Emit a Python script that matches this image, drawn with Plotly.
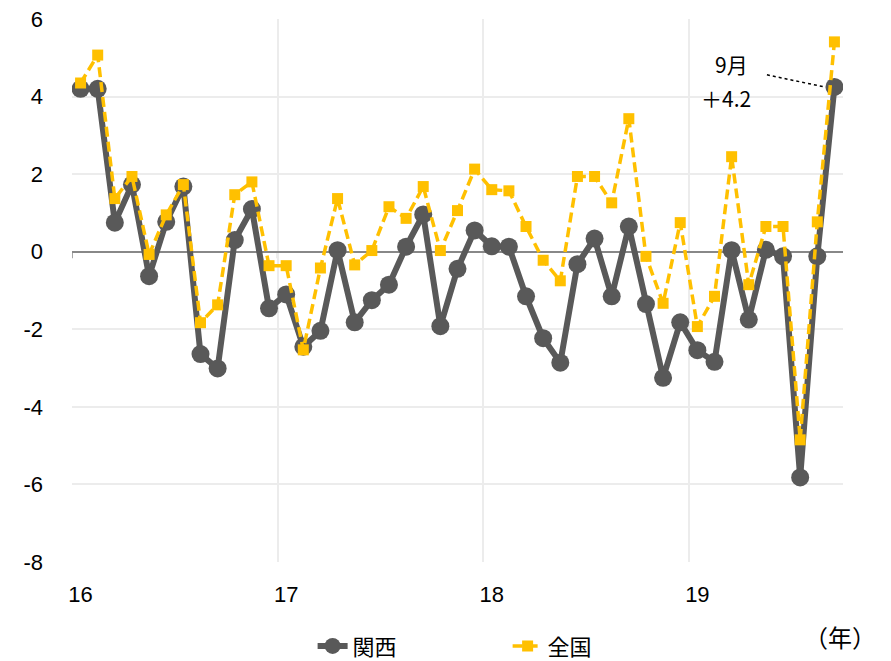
import plotly.graph_objects as go

months = [f"{y}-{m:02d}" for y in range(2016, 2020) for m in range(1, 13)][:45]
kansai = [4.2, 4.2, 0.75, 1.73, -0.63, 0.77, 1.68, -2.64, -3.01, 0.3, 1.1, -1.46,
          -1.1, -2.45, -2.04, 0.04, -1.82, -1.25, -0.85, 0.13, 0.96, -1.92, -0.44, 0.55,
          0.14, 0.13, -1.15, -2.23, -2.86, -0.32, 0.34, -1.15, 0.65, -1.35, -3.25, -1.82,
          -2.54, -2.84, 0.04, -1.75, 0.05, -0.12, -5.82, -0.12, 4.25]
zenkoku = [4.35, 5.07, 1.37, 1.94, -0.07, 0.95, 1.73, -1.83, -1.37, 1.47, 1.8, -0.36,
           -0.36, -2.53, -0.42, 1.37, -0.34, 0.03, 1.16, 0.86, 1.68, 0.03, 1.06, 2.13,
           1.6, 1.57, 0.65, -0.22, -0.75, 1.94, 1.94, 1.26, 3.43, -0.12, -1.33, 0.75,
           -1.93, -1.15, 2.45, -0.85, 0.65, 0.65, -4.85, 0.77, 5.41]
year_ticks = ["16", "17", "18", "19"]
y_ticks = [6, 4, 2, 0, -2, -4, -6, -8]

x = list(range(len(months)))
tick_pos = [x[i] for i in range(0, len(x), 12)]
bounds = [p - 0.5 for p in tick_pos]

latin = "Liberation Sans, Arial, sans-serif"
cjk = "Noto Sans CJK JP, sans-serif"

fig = go.Figure()
fig.add_trace(go.Scatter(
    x=x, y=kansai, name="関西", mode="lines+markers",
    line=dict(color="#595959", width=6),
    marker=dict(symbol="circle", size=18, color="#595959"),
))
fig.add_trace(go.Scatter(
    x=x, y=zenkoku, name="全国", mode="lines+markers",
    line=dict(color="#FFC000", width=3.5, dash="10px,5px"),
    marker=dict(symbol="square", size=11, color="#FFC000"),
))

# tick marks at year boundaries on the zero line
for b in bounds:
    fig.add_shape(type="line", x0=b, x1=b, y0=0, y1=-0.17, xref="x", yref="y",
                  line=dict(color="#888888", width=1.5), layer="below")

# annotation for last point
last = len(x) - 1
fig.add_shape(type="line", x0=40.06, y0=4.56, x1=x[last] - 0.6, y1=kansai[last],
              xref="x", yref="y", line=dict(color="black", width=1.5, dash="dot"))
fig.add_annotation(x=38.0, y=4.84, xref="x", yref="y", text="9月", showarrow=False,
                   font=dict(family=cjk, size=21, color="black"))
fig.add_annotation(x=37.7, y=3.96, xref="x", yref="y", text="＋4.2", showarrow=False,
                   font=dict(family=cjk, size=21, color="black"))
fig.add_annotation(x=1.046, y=-0.138, xref="paper", yref="paper", text="（年）",
                   showarrow=False, xanchor="right", yanchor="middle",
                   font=dict(family=cjk, size=24, color="black"))

fig.update_layout(
    width=883, height=653,
    margin=dict(l=64, r=48, t=11, b=99, autoexpand=False),
    paper_bgcolor="white", plot_bgcolor="white",
    font=dict(family=latin, size=22, color="black"),
    showlegend=True,
    legend=dict(orientation="h", x=0.565, xanchor="center", y=-0.155, yanchor="middle",
                font=dict(family=cjk, size=22, color="black"),
                entrywidth=150, entrywidthmode="pixels", tracegroupgap=0,
                bgcolor="rgba(0,0,0,0)"),
    xaxis=dict(
        range=[-0.5, len(x) - 0.5],
        tickmode="array", tickvals=tick_pos, ticktext=year_ticks,
        showgrid=False, zeroline=False, showline=False, ticks="",
        ticklabelstandoff=17,
        tickfont=dict(family=latin, size=22, color="black"),
        minor=dict(tickmode="array", tickvals=bounds, showgrid=True,
                   gridcolor="#ececec", gridwidth=1.5, ticks=""),
    ),
    yaxis=dict(
        range=[-8, 6],
        tickmode="array", tickvals=y_ticks, ticktext=[str(v) for v in y_ticks],
        showgrid=True, gridcolor="#ececec", gridwidth=1.5,
        zeroline=True, zerolinecolor="#888888", zerolinewidth=2,
        showline=False, ticks="",
        ticklabelstandoff=28, ticklabeloverflow="allow",
        tickfont=dict(family=latin, size=22, color="black"),
    ),
)

fig.write_html("out.html")
